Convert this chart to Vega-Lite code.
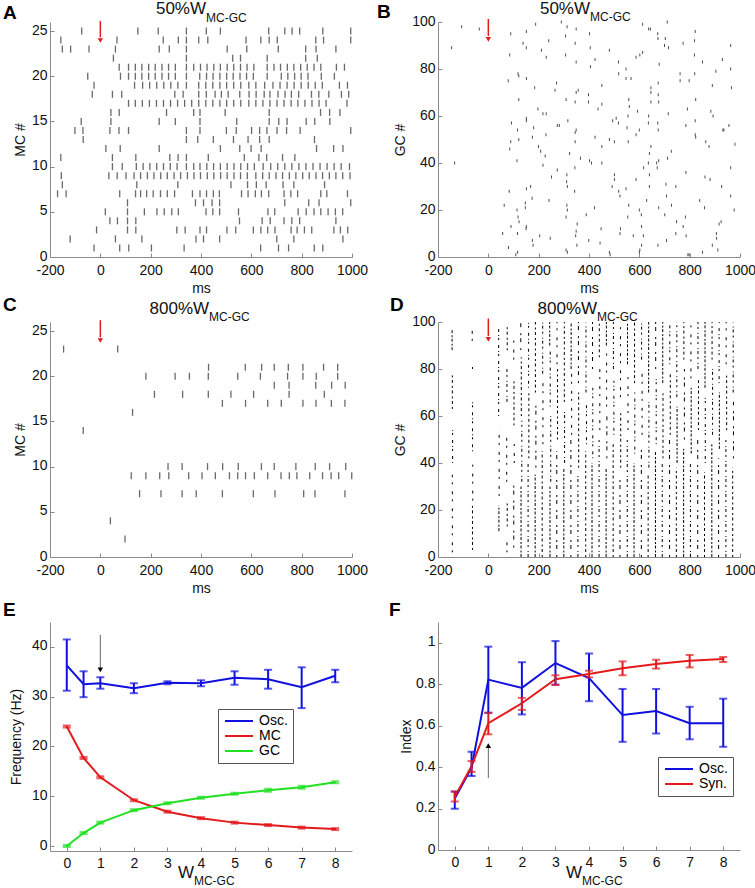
{
"$schema": "https://vega.github.io/schema/vega-lite/v6.json",
"background": "white",
"padding": {"left": 2, "top": 0, "right": 0, "bottom": 0},
"columns": 2,
"spacing": {"row": 65, "column": 86},
"bounds": "flush",
"resolve": {"scale": {"color": "independent", "strokeDash": "independent"}, "legend": {"color": "independent"}},
"datasets": {
"rA": [
{"t":-74,"n":25},{"t":149,"n":25},{"t":230,"n":25},{"t":342,"n":25},{"t":421,"n":25},{"t":477,"n":25},{"t":669,"n":25},{"t":733,"n":25},{"t":762,"n":25},{"t":792,"n":25},{"t":884,"n":25},{"t":995,"n":25},
{"t":-157,"n":24},{"t":66,"n":24},{"t":250,"n":24},{"t":310,"n":24},{"t":342,"n":24},{"t":391,"n":24},{"t":427,"n":24},{"t":579,"n":24},{"t":638,"n":24},{"t":671,"n":24},{"t":703,"n":24},{"t":856,"n":24},{"t":887,"n":24},{"t":995,"n":24},
{"t":-151,"n":23},{"t":-118,"n":23},{"t":-45,"n":23},{"t":60,"n":23},{"t":234,"n":23},{"t":274,"n":23},{"t":342,"n":23},{"t":504,"n":23},{"t":582,"n":23},{"t":707,"n":23},{"t":816,"n":23},{"t":857,"n":23},{"t":936,"n":23},
{"t":52,"n":22},{"t":342,"n":22},{"t":526,"n":22},{"t":557,"n":22},{"t":663,"n":22},{"t":816,"n":22},{"t":862,"n":22},
{"t":75,"n":21},{"t":112,"n":21},{"t":139,"n":21},{"t":165,"n":21},{"t":192,"n":21},{"t":218,"n":21},{"t":245,"n":21},{"t":271,"n":21},{"t":298,"n":21},{"t":342,"n":21},{"t":371,"n":21},{"t":398,"n":21},{"t":424,"n":21},{"t":451,"n":21},{"t":477,"n":21},{"t":504,"n":21},{"t":530,"n":21},{"t":557,"n":21},{"t":583,"n":21},{"t":610,"n":21},{"t":663,"n":21},{"t":690,"n":21},{"t":716,"n":21},{"t":743,"n":21},{"t":769,"n":21},{"t":796,"n":21},{"t":822,"n":21},{"t":849,"n":21},{"t":876,"n":21},{"t":938,"n":21},{"t":970,"n":21},
{"t":-50,"n":20},{"t":80,"n":20},{"t":112,"n":20},{"t":139,"n":20},{"t":165,"n":20},{"t":192,"n":20},{"t":218,"n":20},{"t":245,"n":20},{"t":271,"n":20},{"t":298,"n":20},{"t":342,"n":20},{"t":395,"n":20},{"t":422,"n":20},{"t":448,"n":20},{"t":475,"n":20},{"t":502,"n":20},{"t":528,"n":20},{"t":555,"n":20},{"t":581,"n":20},{"t":608,"n":20},{"t":663,"n":20},{"t":719,"n":20},{"t":745,"n":20},{"t":772,"n":20},{"t":798,"n":20},{"t":825,"n":20},{"t":878,"n":20},{"t":930,"n":20},
{"t":-25,"n":19},{"t":136,"n":19},{"t":168,"n":19},{"t":196,"n":19},{"t":224,"n":19},{"t":252,"n":19},{"t":280,"n":19},{"t":308,"n":19},{"t":342,"n":19},{"t":391,"n":19},{"t":419,"n":19},{"t":447,"n":19},{"t":475,"n":19},{"t":502,"n":19},{"t":530,"n":19},{"t":558,"n":19},{"t":590,"n":19},{"t":618,"n":19},{"t":653,"n":19},{"t":686,"n":19},{"t":714,"n":19},{"t":742,"n":19},{"t":770,"n":19},{"t":798,"n":19},{"t":826,"n":19},{"t":854,"n":19},{"t":882,"n":19},{"t":950,"n":19},{"t":982,"n":19},
{"t":-32,"n":18},{"t":48,"n":18},{"t":85,"n":18},{"t":296,"n":18},{"t":329,"n":18},{"t":391,"n":18},{"t":421,"n":18},{"t":456,"n":18},{"t":481,"n":18},{"t":508,"n":18},{"t":554,"n":18},{"t":591,"n":18},{"t":619,"n":18},{"t":651,"n":18},{"t":674,"n":18},{"t":706,"n":18},{"t":734,"n":18},{"t":759,"n":18},{"t":788,"n":18},{"t":839,"n":18},{"t":868,"n":18},{"t":908,"n":18},{"t":958,"n":18},{"t":987,"n":18},
{"t":112,"n":17},{"t":139,"n":17},{"t":167,"n":17},{"t":195,"n":17},{"t":223,"n":17},{"t":251,"n":17},{"t":279,"n":17},{"t":307,"n":17},{"t":335,"n":17},{"t":363,"n":17},{"t":391,"n":17},{"t":419,"n":17},{"t":447,"n":17},{"t":475,"n":17},{"t":502,"n":17},{"t":530,"n":17},{"t":558,"n":17},{"t":590,"n":17},{"t":618,"n":17},{"t":646,"n":17},{"t":674,"n":17},{"t":702,"n":17},{"t":730,"n":17},{"t":758,"n":17},{"t":785,"n":17},{"t":813,"n":17},{"t":841,"n":17},{"t":869,"n":17},{"t":897,"n":17},{"t":980,"n":17},
{"t":42,"n":16},{"t":75,"n":16},{"t":263,"n":16},{"t":371,"n":16},{"t":396,"n":16},{"t":496,"n":16},{"t":671,"n":16},{"t":875,"n":16},{"t":911,"n":16},{"t":952,"n":16},
{"t":-76,"n":15},{"t":42,"n":15},{"t":234,"n":15},{"t":298,"n":15},{"t":396,"n":15},{"t":542,"n":15},{"t":671,"n":15},{"t":709,"n":15},{"t":742,"n":15},{"t":818,"n":15},{"t":852,"n":15},{"t":912,"n":15},
{"t":-101,"n":14},{"t":-69,"n":14},{"t":38,"n":14},{"t":74,"n":14},{"t":112,"n":14},{"t":342,"n":14},{"t":396,"n":14},{"t":501,"n":14},{"t":540,"n":14},{"t":601,"n":14},{"t":633,"n":14},{"t":662,"n":14},{"t":702,"n":14},{"t":740,"n":14},{"t":794,"n":14},{"t":995,"n":14},
{"t":-68,"n":13},{"t":342,"n":13},{"t":387,"n":13},{"t":449,"n":13},{"t":529,"n":13},{"t":587,"n":13},{"t":633,"n":13},{"t":671,"n":13},{"t":851,"n":13},
{"t":22,"n":12},{"t":79,"n":12},{"t":234,"n":12},{"t":477,"n":12},{"t":554,"n":12},{"t":599,"n":12},{"t":639,"n":12},{"t":859,"n":12},{"t":927,"n":12},{"t":964,"n":12},
{"t":-157,"n":11},{"t":48,"n":11},{"t":141,"n":11},{"t":276,"n":11},{"t":309,"n":11},{"t":342,"n":11},{"t":429,"n":11},{"t":572,"n":11},{"t":630,"n":11},{"t":661,"n":11},{"t":724,"n":11},{"t":773,"n":11},
{"t":48,"n":10},{"t":87,"n":10},{"t":143,"n":10},{"t":170,"n":10},{"t":197,"n":10},{"t":224,"n":10},{"t":251,"n":10},{"t":278,"n":10},{"t":305,"n":10},{"t":342,"n":10},{"t":371,"n":10},{"t":396,"n":10},{"t":423,"n":10},{"t":450,"n":10},{"t":477,"n":10},{"t":504,"n":10},{"t":531,"n":10},{"t":558,"n":10},{"t":585,"n":10},{"t":612,"n":10},{"t":647,"n":10},{"t":677,"n":10},{"t":705,"n":10},{"t":733,"n":10},{"t":761,"n":10},{"t":789,"n":10},{"t":817,"n":10},{"t":845,"n":10},{"t":873,"n":10},{"t":901,"n":10},{"t":929,"n":10},{"t":957,"n":10},{"t":990,"n":10},
{"t":-155,"n":9},{"t":34,"n":9},{"t":67,"n":9},{"t":102,"n":9},{"t":134,"n":9},{"t":160,"n":9},{"t":187,"n":9},{"t":213,"n":9},{"t":240,"n":9},{"t":266,"n":9},{"t":293,"n":9},{"t":319,"n":9},{"t":346,"n":9},{"t":372,"n":9},{"t":398,"n":9},{"t":425,"n":9},{"t":451,"n":9},{"t":478,"n":9},{"t":504,"n":9},{"t":531,"n":9},{"t":557,"n":9},{"t":584,"n":9},{"t":618,"n":9},{"t":645,"n":9},{"t":671,"n":9},{"t":698,"n":9},{"t":724,"n":9},{"t":751,"n":9},{"t":777,"n":9},{"t":804,"n":9},{"t":830,"n":9},{"t":857,"n":9},{"t":883,"n":9},{"t":910,"n":9},{"t":936,"n":9},{"t":963,"n":9},{"t":992,"n":9},
{"t":-151,"n":8},{"t":145,"n":8},{"t":308,"n":8},{"t":519,"n":8},{"t":585,"n":8},{"t":620,"n":8},{"t":659,"n":8},{"t":726,"n":8},{"t":769,"n":8},{"t":891,"n":8},
{"t":-170,"n":7},{"t":-136,"n":7},{"t":77,"n":7},{"t":140,"n":7},{"t":160,"n":7},{"t":184,"n":7},{"t":210,"n":7},{"t":239,"n":7},{"t":266,"n":7},{"t":295,"n":7},{"t":366,"n":7},{"t":396,"n":7},{"t":422,"n":7},{"t":449,"n":7},{"t":473,"n":7},{"t":561,"n":7},{"t":587,"n":7},{"t":616,"n":7},{"t":640,"n":7},{"t":669,"n":7},{"t":730,"n":7},{"t":757,"n":7},{"t":784,"n":7},{"t":876,"n":7},{"t":900,"n":7},{"t":982,"n":7},
{"t":108,"n":6},{"t":378,"n":6},{"t":410,"n":6},{"t":444,"n":6},{"t":474,"n":6},{"t":733,"n":6},{"t":828,"n":6},{"t":869,"n":6},{"t":995,"n":6},
{"t":20,"n":5},{"t":108,"n":5},{"t":175,"n":5},{"t":225,"n":5},{"t":254,"n":5},{"t":284,"n":5},{"t":310,"n":5},{"t":420,"n":5},{"t":447,"n":5},{"t":474,"n":5},{"t":549,"n":5},{"t":666,"n":5},{"t":693,"n":5},{"t":786,"n":5},{"t":818,"n":5},{"t":849,"n":5},{"t":876,"n":5},{"t":905,"n":5},{"t":934,"n":5},{"t":963,"n":5},
{"t":38,"n":4},{"t":68,"n":4},{"t":108,"n":4},{"t":141,"n":4},{"t":553,"n":4},{"t":643,"n":4},{"t":675,"n":4},{"t":730,"n":4},{"t":761,"n":4},{"t":792,"n":4},{"t":936,"n":4},
{"t":-15,"n":3},{"t":108,"n":3},{"t":141,"n":3},{"t":304,"n":3},{"t":337,"n":3},{"t":396,"n":3},{"t":422,"n":3},{"t":503,"n":3},{"t":538,"n":3},{"t":608,"n":3},{"t":638,"n":3},{"t":665,"n":3},{"t":694,"n":3},{"t":758,"n":3},{"t":782,"n":3},{"t":811,"n":3},{"t":840,"n":3},{"t":928,"n":3},{"t":954,"n":3},{"t":983,"n":3},
{"t":-120,"n":2},{"t":60,"n":2},{"t":165,"n":2},{"t":380,"n":2},{"t":410,"n":2},{"t":474,"n":2},{"t":701,"n":2},{"t":769,"n":2},{"t":964,"n":2},
{"t":-25,"n":1},{"t":77,"n":1},{"t":113,"n":1},{"t":203,"n":1},{"t":333,"n":1},{"t":637,"n":1},{"t":708,"n":1},{"t":748,"n":1},{"t":850,"n":1},{"t":884,"n":1}
],
"rB": [
{"t":-106,"n":98},{"t":-36,"n":97},{"t":-146,"n":89},{"t":-134,"n":40},{"t":89,"n":95},{"t":151,"n":96},{"t":188,"n":99},{"t":138,"n":91},{"t":151,"n":89},{"t":85,"n":86},{"t":290,"n":100},{"t":313,"n":98},{"t":349,"n":97},{"t":307,"n":94},{"t":345,"n":91},{"t":240,"n":92},{"t":211,"n":88},{"t":230,"n":85},{"t":307,"n":86},{"t":402,"n":95},{"t":405,"n":89},{"t":481,"n":88},{"t":613,"n":99},{"t":637,"n":97},{"t":644,"n":97},{"t":673,"n":95},{"t":674,"n":93},{"t":703,"n":93},{"t":711,"n":100},{"t":700,"n":90},{"t":716,"n":89},{"t":774,"n":91},{"t":822,"n":96},{"t":819,"n":92},{"t":819,"n":86},{"t":963,"n":90},{"t":930,"n":84},{"t":851,"n":83},{"t":613,"n":87},{"t":602,"n":86},{"t":517,"n":83},{"t":424,"n":84},{"t":349,"n":83},{"t":406,"n":81},{"t":518,"n":78},{"t":547,"n":80},{"t":587,"n":85},{"t":679,"n":82},{"t":567,"n":76},{"t":762,"n":78},{"t":820,"n":78},{"t":963,"n":80},{"t":904,"n":79},{"t":890,"n":73},{"t":966,"n":72},{"t":118,"n":78},{"t":121,"n":77},{"t":151,"n":76},{"t":79,"n":75},{"t":184,"n":72},{"t":271,"n":74},{"t":265,"n":71},{"t":349,"n":70},{"t":357,"n":71},{"t":398,"n":69},{"t":451,"n":73},{"t":547,"n":76},{"t":646,"n":72},{"t":646,"n":70},{"t":675,"n":74},{"t":675,"n":69},{"t":762,"n":75},{"t":798,"n":75},
{"t":121,"n":67},{"t":197,"n":63},{"t":217,"n":61},{"t":230,"n":61},{"t":309,"n":67},{"t":345,"n":66},{"t":398,"n":66},{"t":436,"n":63},{"t":451,"n":65},{"t":558,"n":67},{"t":560,"n":64},{"t":593,"n":62},{"t":646,"n":66},{"t":677,"n":66},{"t":715,"n":61},{"t":791,"n":63},{"t":824,"n":67},{"t":884,"n":62},{"t":893,"n":60},{"t":822,"n":58},{"t":92,"n":57},{"t":151,"n":59},{"t":151,"n":58},{"t":116,"n":54},{"t":121,"n":50},{"t":89,"n":49},{"t":85,"n":46},{"t":180,"n":55},{"t":175,"n":51},{"t":199,"n":47},{"t":208,"n":45},{"t":226,"n":43},{"t":217,"n":39},{"t":229,"n":52},{"t":274,"n":56},{"t":282,"n":56},{"t":316,"n":58},{"t":349,"n":54},{"t":345,"n":53},{"t":345,"n":49},{"t":323,"n":44},{"t":344,"n":38},{"t":366,"n":42},{"t":402,"n":41},{"t":424,"n":51},{"t":451,"n":47},{"t":481,"n":50},{"t":501,"n":49},{"t":494,"n":58},{"t":508,"n":59},{"t":517,"n":57},{"t":551,"n":55},{"t":600,"n":54},{"t":587,"n":52},{"t":556,"n":49},{"t":555,"n":60},{"t":637,"n":60},{"t":636,"n":57},{"t":673,"n":57},{"t":675,"n":54},{"t":646,"n":47},{"t":640,"n":44},{"t":636,"n":40},{"t":677,"n":41},{"t":671,"n":38},{"t":712,"n":42},{"t":727,"n":45},{"t":785,"n":56},{"t":822,"n":52},{"t":824,"n":51},{"t":864,"n":49},{"t":877,"n":47},{"t":936,"n":54},{"t":932,"n":54},{"t":956,"n":56},{"t":980,"n":48},{"t":963,"n":38},{"t":114,"n":41},{"t":251,"n":34},{"t":274,"n":37},{"t":312,"n":35},{"t":311,"n":32},{"t":314,"n":30},{"t":343,"n":28},{"t":410,"n":40},{"t":451,"n":40},{"t":501,"n":35},{"t":501,"n":33},{"t":492,"n":30},{"t":587,"n":33},{"t":547,"n":29},{"t":640,"n":35},{"t":640,"n":30},{"t":617,"n":38},{"t":669,"n":40},{"t":706,"n":31},{"t":745,"n":30},{"t":785,"n":36},{"t":861,"n":34},{"t":881,"n":33},{"t":927,"n":30},{"t":963,"n":26},{"t":977,"n":20},
{"t":83,"n":28},{"t":63,"n":22},{"t":114,"n":20},{"t":151,"n":29},{"t":168,"n":30},{"t":174,"n":25},{"t":147,"n":23},{"t":147,"n":21},{"t":118,"n":17},{"t":122,"n":15},{"t":90,"n":13},{"t":116,"n":10},{"t":151,"n":13},{"t":150,"n":12},{"t":175,"n":7},{"t":178,"n":5},{"t":204,"n":9},{"t":246,"n":8},{"t":57,"n":10},{"t":80,"n":4},{"t":116,"n":2},{"t":109,"n":1},{"t":241,"n":24},{"t":312,"n":22},{"t":314,"n":20},{"t":309,"n":17},{"t":353,"n":14},{"t":349,"n":11},{"t":347,"n":9},{"t":352,"n":5},{"t":309,"n":3},{"t":314,"n":2},{"t":389,"n":18},{"t":422,"n":21},{"t":399,"n":7},{"t":448,"n":12},{"t":444,"n":6},{"t":481,"n":2},{"t":484,"n":1},{"t":518,"n":28},{"t":523,"n":26},{"t":558,"n":22},{"t":554,"n":17},{"t":525,"n":12},{"t":523,"n":10},{"t":576,"n":9},{"t":600,"n":20},{"t":608,"n":18},{"t":609,"n":13},{"t":629,"n":24},{"t":616,"n":9},{"t":609,"n":5},{"t":602,"n":3},{"t":600,"n":2},{"t":677,"n":21},{"t":674,"n":5},{"t":708,"n":26},{"t":708,"n":7},{"t":701,"n":18},{"t":728,"n":22},{"t":748,"n":15},{"t":745,"n":10},{"t":774,"n":13},{"t":783,"n":17},{"t":786,"n":9},{"t":793,"n":1},{"t":798,"n":1},{"t":840,"n":24},{"t":859,"n":21},{"t":851,"n":2},{"t":890,"n":5},{"t":906,"n":10},{"t":907,"n":8},{"t":917,"n":14},{"t":925,"n":15},{"t":912,"n":3}
],
"rC": [
{"t":-146,"n":23},{"t":69,"n":23},
{"t":430,"n":21},{"t":576,"n":21},{"t":641,"n":21},{"t":691,"n":21},{"t":747,"n":21},{"t":805,"n":21},{"t":887,"n":21},{"t":943,"n":21},
{"t":181,"n":20},{"t":297,"n":20},{"t":354,"n":20},{"t":429,"n":20},{"t":546,"n":20},{"t":636,"n":20},{"t":744,"n":20},{"t":805,"n":20},{"t":858,"n":20},{"t":943,"n":20},
{"t":691,"n":19},{"t":750,"n":19},{"t":856,"n":19},{"t":919,"n":19},{"t":973,"n":19},
{"t":215,"n":18},{"t":327,"n":18},{"t":429,"n":18},{"t":519,"n":18},{"t":609,"n":18},{"t":750,"n":18},{"t":890,"n":18},
{"t":485,"n":17},{"t":577,"n":17},{"t":665,"n":17},{"t":719,"n":17},{"t":805,"n":17},{"t":857,"n":17},{"t":918,"n":17},{"t":972,"n":17},
{"t":128,"n":16},{"t":-68,"n":14},
{"t":269,"n":10},{"t":325,"n":10},{"t":426,"n":10},{"t":486,"n":10},{"t":548,"n":10},{"t":640,"n":10},{"t":691,"n":10},{"t":777,"n":10},{"t":854,"n":10},{"t":911,"n":10},{"t":975,"n":10},
{"t":123,"n":9},{"t":181,"n":9},{"t":236,"n":9},{"t":272,"n":9},{"t":351,"n":9},{"t":404,"n":9},{"t":457,"n":9},{"t":513,"n":9},{"t":546,"n":9},{"t":577,"n":9},{"t":612,"n":9},{"t":665,"n":9},{"t":718,"n":9},{"t":751,"n":9},{"t":781,"n":9},{"t":832,"n":9},{"t":883,"n":9},{"t":917,"n":9},{"t":947,"n":9},{"t":999,"n":9},
{"t":156,"n":7},{"t":241,"n":7},{"t":325,"n":7},{"t":381,"n":7},{"t":485,"n":7},{"t":608,"n":7},{"t":694,"n":7},{"t":808,"n":7},{"t":853,"n":7},{"t":972,"n":7},
{"t":40,"n":4},{"t":98,"n":2}
],
"rD": [
{"t":-143,"y1":2,"y2":35,"d":"s"},{"t":-142,"y1":40,"y2":54,"d":"c"},{"t":-143,"y1":63,"y2":78,"d":"m"},{"t":-144,"y1":88,"y2":97,"d":"d"},
{"t":-63,"y1":3,"y2":22,"d":"m"},{"t":-62,"y1":24,"y2":40,"d":"s"},{"t":-63,"y1":45,"y2":67,"d":"c"},{"t":-63,"y1":80,"y2":82,"d":"s"},{"t":-64,"y1":92,"y2":97,"d":"s"},
{"t":42,"y1":11,"y2":22,"d":"d"},{"t":43,"y1":26,"y2":55,"d":"s"},{"t":41,"y1":60,"y2":97,"d":"c"},
{"t":74,"y1":2,"y2":8,"d":"s"},{"t":75,"y1":13,"y2":24,"d":"m"},{"t":73,"y1":32,"y2":52,"d":"s"},{"t":74,"y1":66,"y2":80,"d":"a"},{"t":75,"y1":88,"y2":98,"d":"m"},
{"t":101,"y1":4,"y2":32,"d":"b"},{"t":103,"y1":40,"y2":50,"d":"s"},{"t":102,"y1":56,"y2":75,"d":"m"},{"t":101,"y1":84,"y2":93,"d":"s"},
{"t":130,"y1":0,"y2":30,"d":"d"},{"t":133,"y1":32,"y2":58,"d":"a"},{"t":131,"y1":60,"y2":85,"d":"m"},{"t":129,"y1":88,"y2":100,"d":"b"},
{"t":158,"y1":0,"y2":40,"d":"a"},{"t":161,"y1":42,"y2":70,"d":"m"},{"t":160,"y1":72,"y2":100,"d":"c"},
{"t":186,"y1":0,"y2":35,"d":"d"},{"t":189,"y1":38,"y2":65,"d":"b"},{"t":187,"y1":70,"y2":100,"d":"m"},
{"t":214,"y1":0,"y2":45,"d":"m"},{"t":217,"y1":48,"y2":75,"d":"s"},{"t":216,"y1":78,"y2":100,"d":"a"},
{"t":245,"y1":0,"y2":30,"d":"d"},{"t":248,"y1":32,"y2":60,"d":"a"},{"t":246,"y1":64,"y2":88,"d":"c"},{"t":244,"y1":90,"y2":100,"d":"d"},
{"t":272,"y1":0,"y2":45,"d":"b"},{"t":275,"y1":50,"y2":80,"d":"m"},{"t":273,"y1":82,"y2":100,"d":"s"},
{"t":300,"y1":0,"y2":38,"d":"d"},{"t":303,"y1":40,"y2":62,"d":"a"},{"t":302,"y1":66,"y2":100,"d":"m"},
{"t":328,"y1":0,"y2":50,"d":"b"},{"t":331,"y1":52,"y2":78,"d":"s"},{"t":329,"y1":80,"y2":100,"d":"d"},
{"t":356,"y1":0,"y2":35,"d":"a"},{"t":359,"y1":38,"y2":70,"d":"m"},{"t":358,"y1":74,"y2":100,"d":"b"},
{"t":387,"y1":0,"y2":45,"d":"m"},{"t":390,"y1":48,"y2":66,"d":"c"},{"t":388,"y1":70,"y2":100,"d":"a"},
{"t":412,"y1":0,"y2":40,"d":"d"},{"t":415,"y1":42,"y2":72,"d":"c"},{"t":414,"y1":80,"y2":100,"d":"b"},
{"t":440,"y1":0,"y2":50,"d":"a"},{"t":443,"y1":54,"y2":82,"d":"s"},{"t":441,"y1":85,"y2":100,"d":"m"},
{"t":468,"y1":0,"y2":38,"d":"d"},{"t":471,"y1":42,"y2":60,"d":"b"},{"t":470,"y1":64,"y2":88,"d":"s"},{"t":469,"y1":90,"y2":100,"d":"d"},
{"t":496,"y1":0,"y2":48,"d":"m"},{"t":499,"y1":52,"y2":75,"d":"c"},{"t":497,"y1":80,"y2":100,"d":"a"},
{"t":523,"y1":0,"y2":35,"d":"b"},{"t":526,"y1":38,"y2":62,"d":"m"},{"t":525,"y1":68,"y2":100,"d":"s"},
{"t":552,"y1":0,"y2":50,"d":"a"},{"t":555,"y1":54,"y2":78,"d":"s"},{"t":553,"y1":82,"y2":100,"d":"d"},
{"t":579,"y1":0,"y2":40,"d":"d"},{"t":582,"y1":44,"y2":70,"d":"c"},{"t":581,"y1":74,"y2":100,"d":"m"},
{"t":608,"y1":0,"y2":48,"d":"b"},{"t":611,"y1":52,"y2":80,"d":"s"},{"t":609,"y1":84,"y2":100,"d":"a"},
{"t":635,"y1":0,"y2":35,"d":"m"},{"t":638,"y1":38,"y2":66,"d":"a"},{"t":637,"y1":70,"y2":100,"d":"d"},
{"t":664,"y1":0,"y2":45,"d":"d"},{"t":667,"y1":48,"y2":76,"d":"c"},{"t":665,"y1":80,"y2":100,"d":"b"},
{"t":691,"y1":0,"y2":40,"d":"a"},{"t":694,"y1":42,"y2":70,"d":"m"},{"t":693,"y1":74,"y2":100,"d":"d"},
{"t":720,"y1":0,"y2":50,"d":"b"},{"t":723,"y1":52,"y2":78,"d":"m"},{"t":721,"y1":82,"y2":100,"d":"c"},
{"t":747,"y1":0,"y2":38,"d":"m"},{"t":750,"y1":40,"y2":64,"d":"d"},{"t":749,"y1":68,"y2":100,"d":"a"},
{"t":776,"y1":0,"y2":46,"d":"d"},{"t":779,"y1":50,"y2":80,"d":"b"},{"t":777,"y1":84,"y2":100,"d":"m"},
{"t":803,"y1":0,"y2":40,"d":"a"},{"t":806,"y1":44,"y2":72,"d":"d"},{"t":805,"y1":76,"y2":100,"d":"s"},
{"t":832,"y1":0,"y2":50,"d":"b"},{"t":835,"y1":54,"y2":76,"d":"m"},{"t":833,"y1":80,"y2":100,"d":"a"},
{"t":859,"y1":0,"y2":36,"d":"m"},{"t":862,"y1":40,"y2":68,"d":"c"},{"t":861,"y1":72,"y2":100,"d":"d"},
{"t":888,"y1":0,"y2":48,"d":"d"},{"t":891,"y1":52,"y2":80,"d":"a"},{"t":889,"y1":84,"y2":100,"d":"m"},
{"t":915,"y1":0,"y2":42,"d":"b"},{"t":918,"y1":46,"y2":70,"d":"d"},{"t":917,"y1":74,"y2":100,"d":"c"},
{"t":944,"y1":0,"y2":50,"d":"a"},{"t":947,"y1":54,"y2":78,"d":"m"},{"t":945,"y1":82,"y2":100,"d":"s"},
{"t":971,"y1":0,"y2":38,"d":"m"},{"t":974,"y1":42,"y2":66,"d":"b"},{"t":973,"y1":70,"y2":100,"d":"a"}
],
"fE": [
{"w":0,"s":"Osc.","v":36.3,"lo":31.2,"hi":41.5},{"w":0.5,"s":"Osc.","v":32.5,"lo":29.9,"hi":35.1},{"w":1,"s":"Osc.","v":32.7,"lo":31.6,"hi":33.9},{"w":2,"s":"Osc.","v":31.7,"lo":30.7,"hi":32.7},{"w":3,"s":"Osc.","v":32.8,"lo":32.5,"hi":33.1},{"w":4,"s":"Osc.","v":32.7,"lo":32.1,"hi":33.3},{"w":5,"s":"Osc.","v":33.8,"lo":32.4,"hi":35.1},{"w":6,"s":"Osc.","v":33.5,"lo":31.6,"hi":35.4},{"w":7,"s":"Osc.","v":31.9,"lo":27.7,"hi":35.9},{"w":8,"s":"Osc.","v":34.2,"lo":32.9,"hi":35.4},
{"w":0,"s":"MC","v":24.0,"lo":23.8,"hi":24.2},{"w":0.5,"s":"MC","v":17.7,"lo":17.5,"hi":17.9},{"w":1,"s":"MC","v":13.8,"lo":13.6,"hi":14.0},{"w":2,"s":"MC","v":9.2,"lo":9.0,"hi":9.4},{"w":3,"s":"MC","v":6.9,"lo":6.7,"hi":7.1},{"w":4,"s":"MC","v":5.6,"lo":5.4,"hi":5.8},{"w":5,"s":"MC","v":4.7,"lo":4.5,"hi":4.9},{"w":6,"s":"MC","v":4.2,"lo":4.0,"hi":4.4},{"w":7,"s":"MC","v":3.7,"lo":3.5,"hi":3.9},{"w":8,"s":"MC","v":3.4,"lo":3.2,"hi":3.6},
{"w":0,"s":"GC","v":0.0,"lo":-0.2,"hi":0.2},{"w":0.5,"s":"GC","v":2.6,"lo":2.4,"hi":2.8},{"w":1,"s":"GC","v":4.7,"lo":4.5,"hi":4.9},{"w":2,"s":"GC","v":7.2,"lo":7.0,"hi":7.4},{"w":3,"s":"GC","v":8.6,"lo":8.4,"hi":8.8},{"w":4,"s":"GC","v":9.7,"lo":9.5,"hi":9.9},{"w":5,"s":"GC","v":10.5,"lo":10.3,"hi":10.7},{"w":6,"s":"GC","v":11.2,"lo":10.9,"hi":11.5},{"w":7,"s":"GC","v":11.8,"lo":11.5,"hi":12.1},{"w":8,"s":"GC","v":12.8,"lo":12.6,"hi":13.0}
],
"fF": [
{"w":0,"s":"Osc.","v":0.248,"lo":0.199,"hi":0.282},{"w":0.5,"s":"Osc.","v":0.397,"lo":0.357,"hi":0.474},{"w":1,"s":"Osc.","v":0.822,"lo":0.662,"hi":0.981},{"w":2,"s":"Osc.","v":0.782,"lo":0.654,"hi":0.906},{"w":3,"s":"Osc.","v":0.902,"lo":0.798,"hi":1.008},{"w":4,"s":"Osc.","v":0.83,"lo":0.718,"hi":0.948},{"w":5,"s":"Osc.","v":0.651,"lo":0.522,"hi":0.777},{"w":6,"s":"Osc.","v":0.67,"lo":0.562,"hi":0.777},{"w":7,"s":"Osc.","v":0.612,"lo":0.534,"hi":0.691},{"w":8,"s":"Osc.","v":0.612,"lo":0.498,"hi":0.73},
{"w":0,"s":"Syn.","v":0.257,"lo":0.234,"hi":0.282},{"w":0.5,"s":"Syn.","v":0.404,"lo":0.377,"hi":0.429},{"w":1,"s":"Syn.","v":0.612,"lo":0.558,"hi":0.662},{"w":2,"s":"Syn.","v":0.708,"lo":0.676,"hi":0.734},{"w":3,"s":"Syn.","v":0.824,"lo":0.796,"hi":0.843},{"w":4,"s":"Syn.","v":0.849,"lo":0.833,"hi":0.865},{"w":5,"s":"Syn.","v":0.877,"lo":0.843,"hi":0.91},{"w":6,"s":"Syn.","v":0.897,"lo":0.875,"hi":0.918},{"w":7,"s":"Syn.","v":0.913,"lo":0.881,"hi":0.941},{"w":8,"s":"Syn.","v":0.921,"lo":0.907,"hi":0.931}
]
},
"concat": [
{
"width": 302, "height": 235,
"layer": [
{"data": {"name": "rA"}, "mark": {"type": "tick", "orient": "vertical", "size": 7, "thickness": 1.3, "color": "#2a2a2a"},
 "encoding": {
  "x": {"field": "t", "type": "quantitative", "scale": {"domain": [-200, 1000], "nice": false, "zero": false}, "axis": {"title": "ms", "values": [-200,0,200,400,600,800,1000], "labelExpr": "datum.value + ''"}},
  "y": {"field": "n", "type": "quantitative", "scale": {"domain": [0, 26], "nice": false, "zero": false}, "axis": {"title": "MC #", "values": [0,5,10,15,20,25], "titlePadding": 3.5}}}},
{"data": {"values": [{}]}, "mark": {"type": "rule", "color": "#e31b1f", "strokeWidth": 1.5}, "encoding": {"x": {"datum": 0}, "y": {"datum": 26.1}, "y2": {"datum": 24.3}}},
{"data": {"values": [{}]}, "mark": {"type": "point", "shape": "triangle-down", "filled": true, "size": 28, "color": "#e31b1f", "opacity": 1}, "encoding": {"x": {"datum": 0}, "y": {"datum": 23.95}}},
{"data": {"values": [{}]}, "mark": {"type": "text", "align": "right", "baseline": "alphabetic", "fontSize": 17, "color": "#111"}, "encoding": {"x": {"datum": 420}, "y": {"datum": 26.83}, "text": {"value": "50%W"}}},
{"data": {"values": [{}]}, "mark": {"type": "text", "align": "left", "baseline": "alphabetic", "fontSize": 12, "color": "#111"}, "encoding": {"x": {"datum": 420}, "y": {"datum": 26.03}, "text": {"value": "MC-GC"}}},
{"data": {"values": [{}]}, "mark": {"type": "text", "align": "left", "baseline": "alphabetic", "fontSize": 19, "fontWeight": "bold", "color": "#000"}, "encoding": {"x": {"datum": -387}, "y": {"datum": 26.33}, "text": {"value": "A"}}}
]
},
{
"width": 302, "height": 235,
"layer": [
{"data": {"name": "rB"}, "mark": {"type": "tick", "orient": "vertical", "size": 3, "thickness": 1, "color": "#000"},
 "encoding": {
  "x": {"field": "t", "type": "quantitative", "scale": {"domain": [-200, 1000], "nice": false, "zero": false}, "axis": {"title": "ms", "values": [-200,0,200,400,600,800,1000], "labelExpr": "datum.value + ''"}},
  "y": {"field": "n", "type": "quantitative", "scale": {"domain": [0, 100], "nice": false, "zero": false}, "axis": {"title": "GC #", "values": [0,20,40,60,80,100], "titlePadding": 4.5}}}},
{"data": {"values": [{}]}, "mark": {"type": "rule", "color": "#e31b1f", "strokeWidth": 1.5}, "encoding": {"x": {"datum": 0}, "y": {"datum": 101.3}, "y2": {"datum": 94.0}}},
{"data": {"values": [{}]}, "mark": {"type": "point", "shape": "triangle-down", "filled": true, "size": 28, "color": "#e31b1f", "opacity": 1}, "encoding": {"x": {"datum": 0}, "y": {"datum": 92.6}}},
{"data": {"values": [{}]}, "mark": {"type": "text", "align": "right", "baseline": "alphabetic", "fontSize": 17, "color": "#111"}, "encoding": {"x": {"datum": 404}, "y": {"datum": 103.4}, "text": {"value": "50%W"}}},
{"data": {"values": [{}]}, "mark": {"type": "text", "align": "left", "baseline": "alphabetic", "fontSize": 12, "color": "#111"}, "encoding": {"x": {"datum": 404}, "y": {"datum": 100.4}, "text": {"value": "MC-GC"}}},
{"data": {"values": [{}]}, "mark": {"type": "text", "align": "left", "baseline": "alphabetic", "fontSize": 19, "fontWeight": "bold", "color": "#000"}, "encoding": {"x": {"datum": -442}, "y": {"datum": 101.7}, "text": {"value": "B"}}}
]
},
{
"width": 302, "height": 235,
"layer": [
{"data": {"name": "rC"}, "mark": {"type": "tick", "orient": "vertical", "size": 7, "thickness": 1.3, "color": "#2a2a2a"},
 "encoding": {
  "x": {"field": "t", "type": "quantitative", "scale": {"domain": [-200, 1000], "nice": false, "zero": false}, "axis": {"title": "ms", "values": [-200,0,200,400,600,800,1000], "labelExpr": "datum.value + ''"}},
  "y": {"field": "n", "type": "quantitative", "scale": {"domain": [0, 26], "nice": false, "zero": false}, "axis": {"title": "MC #", "values": [0,5,10,15,20,25], "titlePadding": 3.5}}}},
{"data": {"values": [{}]}, "mark": {"type": "rule", "color": "#e31b1f", "strokeWidth": 1.5}, "encoding": {"x": {"datum": 0}, "y": {"datum": 26.2}, "y2": {"datum": 24.3}}},
{"data": {"values": [{}]}, "mark": {"type": "point", "shape": "triangle-down", "filled": true, "size": 28, "color": "#e31b1f", "opacity": 1}, "encoding": {"x": {"datum": 0}, "y": {"datum": 23.95}}},
{"data": {"values": [{}]}, "mark": {"type": "text", "align": "right", "baseline": "alphabetic", "fontSize": 17, "color": "#111"}, "encoding": {"x": {"datum": 432}, "y": {"datum": 26.9}, "text": {"value": "800%W"}}},
{"data": {"values": [{}]}, "mark": {"type": "text", "align": "left", "baseline": "alphabetic", "fontSize": 12, "color": "#111"}, "encoding": {"x": {"datum": 432}, "y": {"datum": 26.1}, "text": {"value": "MC-GC"}}},
{"data": {"values": [{}]}, "mark": {"type": "text", "align": "left", "baseline": "alphabetic", "fontSize": 19, "fontWeight": "bold", "color": "#000"}, "encoding": {"x": {"datum": -387}, "y": {"datum": 27.2}, "text": {"value": "C"}}}
]
},
{
"width": 302, "height": 235,
"layer": [
{"data": {"name": "rD"}, "mark": {"type": "rule", "strokeWidth": 1, "color": "#000"},
 "encoding": {
  "x": {"field": "t", "type": "quantitative", "scale": {"domain": [-200, 1000], "nice": false, "zero": false}, "axis": {"title": "ms", "values": [-200,0,200,400,600,800,1000], "labelExpr": "datum.value + ''"}},
  "y": {"field": "y1", "type": "quantitative", "scale": {"domain": [0, 100], "nice": false, "zero": false}, "axis": {"title": "GC #", "values": [0,20,40,60,80,100], "titlePadding": 4.5}},
  "y2": {"field": "y2"},
  "strokeDash": {"field": "d", "type": "nominal", "scale": {"domain": ["d","m","s","a","b","c"], "range": [[3,1.5,2,2],[2,3,3,2.5],[2,5,3,7],[3,2,1,4,2,3],[2,6,4,3],[1,3,3,5,2,2]]}, "legend": null}}},
{"data": {"values": [{}]}, "mark": {"type": "rule", "color": "#e31b1f", "strokeWidth": 1.5}, "encoding": {"x": {"datum": 0}, "y": {"datum": 101.5}, "y2": {"datum": 94.0}}},
{"data": {"values": [{}]}, "mark": {"type": "point", "shape": "triangle-down", "filled": true, "size": 28, "color": "#e31b1f", "opacity": 1}, "encoding": {"x": {"datum": 0}, "y": {"datum": 92.6}}},
{"data": {"values": [{}]}, "mark": {"type": "text", "align": "right", "baseline": "alphabetic", "fontSize": 17, "color": "#111"}, "encoding": {"x": {"datum": 432}, "y": {"datum": 103.4}, "text": {"value": "800%W"}}},
{"data": {"values": [{}]}, "mark": {"type": "text", "align": "left", "baseline": "alphabetic", "fontSize": 12, "color": "#111"}, "encoding": {"x": {"datum": 432}, "y": {"datum": 100.4}, "text": {"value": "MC-GC"}}},
{"data": {"values": [{}]}, "mark": {"type": "text", "align": "left", "baseline": "alphabetic", "fontSize": 19, "fontWeight": "bold", "color": "#000"}, "encoding": {"x": {"datum": -391}, "y": {"datum": 104.7}, "text": {"value": "D"}}}
]
},
{
"width": 302, "height": 229,
"layer": [
{"data": {"name": "fE"}, "mark": {"type": "line", "strokeWidth": 2},
 "encoding": {
  "x": {"field": "w", "type": "quantitative", "scale": {"domain": [-0.5, 8.5], "nice": false, "zero": false}, "axis": {"title": null, "values": [0,1,2,3,4,5,6,7,8], "tickCount": 9, "labelOverlap": false, "labelSeparation": 0, "labelPadding": 9}},
  "y": {"field": "v", "type": "quantitative", "scale": {"domain": [-1, 45], "nice": false, "zero": false}, "axis": {"title": "Frequency (Hz)", "values": [0,10,20,30,40], "titlePadding": 7.5}},
  "color": {"field": "s", "type": "nominal", "scale": {"domain": ["Osc.","MC","GC"], "range": ["#1010e0","#e41a1c","#22e022"]},
   "legend": {"orient": "none", "legendX": 168, "legendY": 87, "title": null, "symbolType": "M-1,0H4.6", "symbolStrokeWidth": 2, "symbolSize": 100, "labelFontSize": 14, "strokeColor": "#555", "fillColor": "white", "padding": 5, "rowPadding": 1, "labelOffset": 22, "labelColor": "#000"}}}},
{"data": {"name": "fE"}, "mark": {"type": "rule", "strokeWidth": 2},
 "encoding": {"x": {"field": "w", "type": "quantitative"}, "y": {"field": "lo", "type": "quantitative"}, "y2": {"field": "hi"}, "color": {"field": "s", "type": "nominal", "legend": null}}},
{"data": {"name": "fE"}, "mark": {"type": "tick", "orient": "horizontal", "size": 8, "thickness": 2},
 "encoding": {"x": {"field": "w", "type": "quantitative"}, "y": {"field": "lo", "type": "quantitative"}, "color": {"field": "s", "type": "nominal", "legend": null}}},
{"data": {"name": "fE"}, "mark": {"type": "tick", "orient": "horizontal", "size": 8, "thickness": 2},
 "encoding": {"x": {"field": "w", "type": "quantitative"}, "y": {"field": "hi", "type": "quantitative"}, "color": {"field": "s", "type": "nominal", "legend": null}}},
{"data": {"values": [{}]}, "mark": {"type": "rule", "color": "#666", "strokeWidth": 1}, "encoding": {"x": {"datum": 1}, "y": {"datum": 42.4}, "y2": {"datum": 35.5}}},
{"data": {"values": [{}]}, "mark": {"type": "point", "shape": "triangle-down", "filled": true, "size": 30, "color": "#000", "opacity": 1}, "encoding": {"x": {"datum": 1}, "y": {"datum": 35.4}}},
{"data": {"values": [{}]}, "mark": {"type": "text", "align": "right", "baseline": "alphabetic", "fontSize": 17, "color": "#111"}, "encoding": {"x": {"datum": 3.79}, "y": {"datum": -6.42}, "text": {"value": "W"}}},
{"data": {"values": [{}]}, "mark": {"type": "text", "align": "left", "baseline": "alphabetic", "fontSize": 12, "color": "#111"}, "encoding": {"x": {"datum": 3.79}, "y": {"datum": -7.83}, "text": {"value": "MC-GC"}}},
{"data": {"values": [{}]}, "mark": {"type": "text", "align": "left", "baseline": "alphabetic", "fontSize": 19, "fontWeight": "bold", "color": "#000"}, "encoding": {"x": {"datum": -1.9}, "y": {"datum": 46.2}, "text": {"value": "E"}}}
]
},
{
"width": 302, "height": 228,
"layer": [
{"data": {"name": "fF"}, "mark": {"type": "line", "strokeWidth": 2},
 "encoding": {
  "x": {"field": "w", "type": "quantitative", "scale": {"domain": [-0.5, 8.5], "nice": false, "zero": false}, "axis": {"title": null, "values": [0,1,2,3,4,5,6,7,8], "tickCount": 9, "labelOverlap": false, "labelSeparation": 0, "labelPadding": 9}},
  "y": {"field": "v", "type": "quantitative", "scale": {"domain": [0, 1.1], "nice": false, "zero": false}, "axis": {"title": "Index", "values": [0,0.2,0.4,0.6,0.8,1], "titlePadding": 2.5, "labelExpr": "datum.value + ''"}},
  "color": {"field": "s", "type": "nominal", "scale": {"domain": ["Osc.","Syn."], "range": ["#1010e0","#e41a1c"]},
   "legend": {"orient": "none", "legendX": 220, "legendY": 135, "title": null, "symbolType": "M-1,0H4.6", "symbolStrokeWidth": 2, "symbolSize": 100, "labelFontSize": 14, "strokeColor": "#555", "fillColor": "white", "padding": 5, "rowPadding": 1, "labelOffset": 22, "labelColor": "#000"}}}},
{"data": {"name": "fF"}, "mark": {"type": "rule", "strokeWidth": 2},
 "encoding": {"x": {"field": "w", "type": "quantitative"}, "y": {"field": "lo", "type": "quantitative"}, "y2": {"field": "hi"}, "color": {"field": "s", "type": "nominal", "legend": null}}},
{"data": {"name": "fF"}, "mark": {"type": "tick", "orient": "horizontal", "size": 8, "thickness": 2},
 "encoding": {"x": {"field": "w", "type": "quantitative"}, "y": {"field": "lo", "type": "quantitative"}, "color": {"field": "s", "type": "nominal", "legend": null}}},
{"data": {"name": "fF"}, "mark": {"type": "tick", "orient": "horizontal", "size": 8, "thickness": 2},
 "encoding": {"x": {"field": "w", "type": "quantitative"}, "y": {"field": "hi", "type": "quantitative"}, "color": {"field": "s", "type": "nominal", "legend": null}}},
{"data": {"values": [{}]}, "mark": {"type": "rule", "color": "#666", "strokeWidth": 1}, "encoding": {"x": {"datum": 1}, "y": {"datum": 0.347}, "y2": {"datum": 0.5}}},
{"data": {"values": [{}]}, "mark": {"type": "point", "shape": "triangle-up", "filled": true, "size": 30, "color": "#000", "opacity": 1}, "encoding": {"x": {"datum": 1}, "y": {"datum": 0.503}}},
{"data": {"values": [{}]}, "mark": {"type": "text", "align": "right", "baseline": "alphabetic", "fontSize": 17, "color": "#111"}, "encoding": {"x": {"datum": 3.79}, "y": {"datum": -0.135}, "text": {"value": "W"}}},
{"data": {"values": [{}]}, "mark": {"type": "text", "align": "left", "baseline": "alphabetic", "fontSize": 12, "color": "#111"}, "encoding": {"x": {"datum": 3.79}, "y": {"datum": -0.169}, "text": {"value": "MC-GC"}}},
{"data": {"values": [{}]}, "mark": {"type": "text", "align": "left", "baseline": "alphabetic", "fontSize": 19, "fontWeight": "bold", "color": "#000"}, "encoding": {"x": {"datum": -1.96}, "y": {"datum": 1.129}, "text": {"value": "F"}}}
]
}
],
"config": {
"view": {"stroke": null},
"font": "Liberation Sans",
"axis": {"grid": false, "domainColor": "#8a8a8a", "tickColor": "#8a8a8a", "tickSize": -4, "labelFontSize": 14, "titleFontSize": 14, "titleFontWeight": "normal", "labelColor": "#111", "titleColor": "#111", "domainWidth": 1, "labelFlush": false, "labelOverlap": false},
"axisX": {"labelPadding": 10, "titlePadding": 4},
"axisY": {"labelPadding": 7, "titlePadding": 2, "labelOffset": -1}
}
}
